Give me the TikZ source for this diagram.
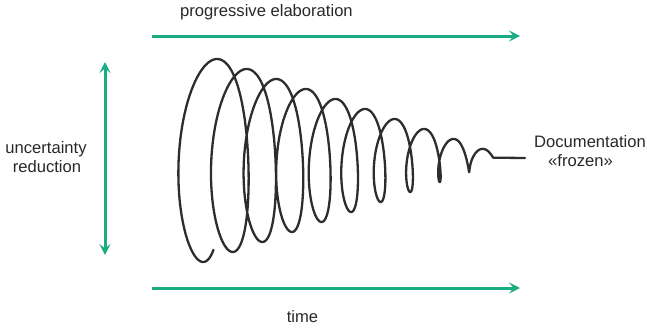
\documentclass[tikz,border=0pt]{standalone}
\usepackage{fontspec}
\setmainfont{Liberation Sans}
\usetikzlibrary{arrows.meta}
\definecolor{arrowgreen}{RGB}{28,172,132}
\definecolor{txt}{RGB}{40,40,40}
\definecolor{coil}{RGB}{45,45,45}
\begin{document}
\begin{tikzpicture}[x=1pt,y=-1pt,
  garrow/.style={draw=arrowgreen,line width=3pt,-{Stealth[length=11pt,width=11pt,inset=4.5pt]}},
  gdarrow/.style={draw=arrowgreen,line width=3pt,{Stealth[length=11pt,width=11pt,inset=4.5pt]}-{Stealth[length=11pt,width=11pt,inset=4.5pt]}},
  lbl/.style={text=txt,font=\fontsize{16.6}{19}\selectfont,inner sep=0pt},
  coilline/.style={draw=coil,line width=2.3pt,line cap=round,line join=round}]
\useasboundingbox (0,0) rectangle (647,327);
% arrows
\coordinate (topA) at (152,36);
\coordinate (topB) at (520,36);
\coordinate (botA) at (152,288);
\coordinate (botB) at (520,288);
\coordinate (vA) at (105,62);
\coordinate (vB) at (105,255);
\draw[garrow] (topA) -- (topB);
\draw[garrow] (botA) -- (botB);
\draw[gdarrow] (vB) -- (vA);
% labels
\node[lbl,anchor=base west] (prog) at (180,16.7) {progressive elaboration};
\node[lbl,anchor=base] (time) at (302.5,322) {time};
\node[lbl,anchor=base] (unc) at (46,153) {uncertainty};
\node[lbl,anchor=base] (red) at (47,172) {reduction};
\node[lbl,anchor=base] (doc) at (590,147) {Documentation};
\node[lbl,anchor=base] (froz) at (580.5,166) {«frozen»};
% coil
\coordinate (lineEnd) at (525,158);
\draw[coilline] plot[domain=0.42:10.25,samples=900,variable=\n]
  ({188+29.6*\n+(0.27*(109-10*\n)+0.5)*sin(360*\n)-0.035*(109-10*\n)*sin(360*\n)*sin(360*\n)},
   {158-(109-10*\n)*cos(360*\n)})
  -- (lineEnd);
\end{tikzpicture}
\end{document}
